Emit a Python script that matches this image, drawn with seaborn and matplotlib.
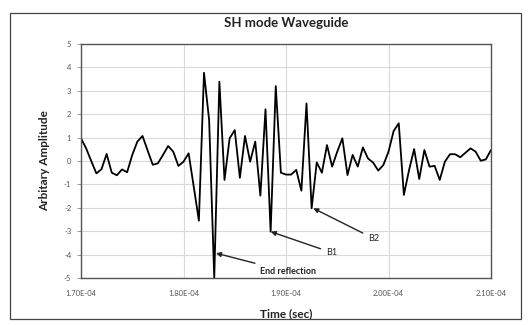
import matplotlib
matplotlib.use("Agg")
import matplotlib.pyplot as plt
import matplotlib.ticker as mticker
from matplotlib.patches import Rectangle
import seaborn as sns
import pandas as pd

sns.set_theme(style="white")
plt.rcParams['font.family'] = ['Lato', 'DejaVu Sans']

# time in microseconds (sampled every 0.5 us)
time_us = [170.0, 170.5, 171.0, 171.5, 172.0, 172.5, 173.0, 173.5, 174.0, 174.5,
           175.0, 175.5, 176.0, 176.5, 177.0, 177.5, 178.0, 178.5, 179.0, 179.5,
           180.0, 180.5, 181.0, 181.5, 182.0, 182.5, 183.0, 183.5, 184.0, 184.5,
           185.0, 185.5, 186.0, 186.5, 187.0, 187.5, 188.0, 188.5, 189.0, 189.5,
           190.0, 190.5, 191.0, 191.5, 192.0, 192.5, 193.0, 193.5, 194.0, 194.5,
           195.0, 195.5, 196.0, 196.5, 197.0, 197.5, 198.0, 198.5, 199.0, 199.5,
           200.0, 200.5, 201.0, 201.5, 202.0, 202.5, 203.0, 203.5, 204.0, 204.5,
           205.0, 205.5, 206.0, 206.5, 207.0, 207.5, 208.0, 208.5, 209.0, 209.5,
           210.0]
amplitude = [0.97, 0.54, 0.0, -0.53, -0.35, 0.30, -0.50, -0.61, -0.36, -0.48,
             0.26, 0.83, 1.07, 0.45, -0.16, -0.10, 0.26, 0.64, 0.40, -0.21,
             -0.03, 0.33, -1.10, -2.55, 3.77, 1.75, -5.0, 3.39, -0.81, 0.97,
             1.32, -0.72, 1.07, -0.03, 0.83, -1.48, 2.21, -3.02, 3.20, -0.50,
             -0.58, -0.58, -0.38, -1.27, 2.46, -2.02, -0.06, -0.50, 0.68, -0.24,
             0.40, 0.97, -0.60, 0.26, -0.24, 0.58, 0.11, -0.07, -0.41, -0.17,
             0.40, 1.28, 1.61, -1.45, -0.40, 0.51, -0.77, 0.47, -0.24, -0.21,
             -0.81, -0.03, 0.29, 0.29, 0.16, 0.35, 0.54, 0.40, 0.01, 0.07,
             0.47]

x_ticks = [1.70e-4, 1.80e-4, 1.90e-4, 2.00e-4, 2.10e-4]
y_ticks = [-5, -4, -3, -2, -1, 0, 1, 2, 3, 4, 5]

# annotations: label, target (time s, amplitude), text position (time s, amplitude)
ann_labels = ["End reflection", "B1", "B2"]
ann_targets = [(1.8317e-4, -3.94), (1.8851e-4, -3.02), (1.9266e-4, -2.02)]
ann_texts = [(1.8745e-4, -4.73), (1.9395e-4, -3.92), (1.9805e-4, -3.32)]
ann_bold = [True, False, False]

df = pd.DataFrame({"time": [t * 1e-6 for t in time_us], "amp": amplitude})

W, H = 530, 325
fig = plt.figure(figsize=(W / 100, H / 100), dpi=100)
ax = fig.add_axes([81 / W, 1 - 278 / H, (491 - 81) / W, (278 - 44) / H])

sns.lineplot(data=df, x="time", y="amp", ax=ax, color="black", linewidth=1.3)

ax.set_xlim(1.70e-4, 2.10e-4)
ax.set_ylim(-5, 5)
ax.set_xticks(x_ticks)
ax.set_yticks(y_ticks)
ax.xaxis.set_major_formatter(mticker.FuncFormatter(lambda v, p: f"{v:.2E}"))
ax.yaxis.set_major_formatter(mticker.FuncFormatter(lambda v, p: f"{int(round(v))}"))
ax.tick_params(axis='both', labelsize=5.5, labelcolor='#555555', length=3,
               color='#888888', direction='out', width=0.6)
ax.tick_params(axis='x', pad=6)
ax.tick_params(axis='y', pad=4)
ax.tick_params(bottom=False, left=True)
ax.grid(True, color='#d9d9d9', linewidth=0.8)
ax.set_axisbelow(True)
for s in ax.spines.values():
    s.set_color('#555555')
    s.set_linewidth(1.0)
    s.set_visible(True)

ax.set_xlabel("Time (sec)", fontsize=8.5, fontweight='bold', color='#222222', labelpad=8)
ax.set_ylabel("Arbitary Amplitude", fontsize=8.5, fontweight='bold', color='#222222', labelpad=10)
ax.set_title("SH mode Waveguide", fontsize=9.5, fontweight='bold', color='#222222', pad=12)

for lab, tgt, txt, b in zip(ann_labels, ann_targets, ann_texts, ann_bold):
    ax.annotate(lab, xy=tgt, xytext=txt, textcoords='data', fontsize=6.5,
                fontweight='bold' if b else 'normal', color='#222222',
                ha='left', va='center', annotation_clip=False,
                arrowprops=dict(arrowstyle='-|>', color='#222222', lw=1.0,
                                mutation_scale=7, shrinkA=2, shrinkB=0))

fig.patches.append(Rectangle((10 / W, 1 - 319 / H), (521 - 10) / W, (319 - 13) / H,
                             transform=fig.transFigure, fill=False,
                             edgecolor='#444444', linewidth=0.9))

fig.savefig("out.png", dpi=100)
